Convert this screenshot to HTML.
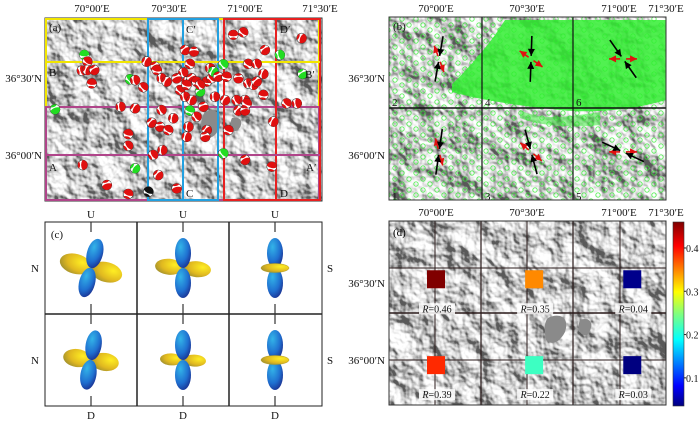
<!DOCTYPE html>
<html><head><meta charset="utf-8">
<style>
html,body{margin:0;padding:0;background:#fff;}
svg{display:block;font-family:"Liberation Serif",serif;}
</style></head>
<body>
<svg id="fig" width="700" height="423" viewBox="0 0 700 423" xmlns="http://www.w3.org/2000/svg">
<defs>
  <filter id="hill" x="0" y="0" width="100%" height="100%">
    <feTurbulence type="fractalNoise" baseFrequency="0.035" numOctaves="4" seed="7" result="n"/>
    <feDiffuseLighting in="n" surfaceScale="10" lighting-color="#ffffff" diffuseConstant="1.1" result="l">
      <feDistantLight azimuth="315" elevation="35"/>
    </feDiffuseLighting>
    <feColorMatrix in="l" type="matrix" values="0.9 0 0 0 0.1  0.9 0 0 0 0.1  0.9 0 0 0 0.1  0 0 0 1 0"/>
  </filter>
  <pattern id="gsparse" width="14" height="11" patternUnits="userSpaceOnUse">
    <circle cx="3" cy="3" r="2.2" fill="none" stroke="#33ee33" stroke-width="0.9"/>
    <circle cx="10" cy="8" r="2.2" fill="none" stroke="#33ee33" stroke-width="0.9"/>
  </pattern>
  <linearGradient id="jet" x1="0" y1="1" x2="0" y2="0">
    <stop offset="0" stop-color="#00007f"/><stop offset="0.11" stop-color="#0000ff"/>
    <stop offset="0.36" stop-color="#00ffff"/><stop offset="0.5" stop-color="#7fff7f"/>
    <stop offset="0.62" stop-color="#ffff00"/><stop offset="0.87" stop-color="#ff0000"/>
    <stop offset="1" stop-color="#7f0000"/>
  </linearGradient>
  <radialGradient id="blue" cx="0.35" cy="0.3" r="0.8">
    <stop offset="0" stop-color="#33b4e8"/><stop offset="0.6" stop-color="#1f6fd0"/><stop offset="1" stop-color="#1a2a8a"/>
  </radialGradient>
  <radialGradient id="yel" cx="0.7" cy="0.35" r="0.8">
    <stop offset="0" stop-color="#ffee22"/><stop offset="0.6" stop-color="#e0b820"/><stop offset="1" stop-color="#9a8c30"/>
  </radialGradient>
</defs>

<!-- Panel a -->
<g>
  <rect x="45" y="18" width="277" height="183" filter="url(#hill)"/>
  <path d="M205,112 C215,108 222,112 220,125 C218,135 210,140 204,138 C200,130 200,118 205,112 Z M232,118 C240,116 245,122 238,130 C232,134 228,126 232,118 Z" fill="#8a8a8a"/>
  <rect x="45" y="18" width="277" height="183" fill="none" stroke="#333" stroke-width="1"/>
  <rect x="46" y="19" width="273" height="88" fill="none" stroke="#f2e600" stroke-width="2"/>
  <rect x="46" y="107" width="273" height="93" fill="none" stroke="#b0458a" stroke-width="2"/>
  <rect x="148" y="19" width="70" height="181" fill="none" stroke="#22a0e0" stroke-width="2"/>
  <line x1="183" y1="19" x2="183" y2="200" stroke="#22a0e0" stroke-width="2"/>
  <rect x="224" y="19" width="96" height="181" fill="none" stroke="#e82020" stroke-width="2"/>
  <line x1="276" y1="19" x2="276" y2="200" stroke="#e82020" stroke-width="2"/>
  <line x1="46" y1="62" x2="320" y2="62" stroke="#f2e600" stroke-width="2"/>
  <line x1="46" y1="155" x2="320" y2="155" stroke="#b0458a" stroke-width="2"/>
  <g id="beachballs"></g>
  <g font-size="11" fill="#111">
    <text x="49" y="31">(a)</text>
    <text x="49" y="76">B</text><text x="305" y="78">B′</text>
    <text x="49" y="171">A</text><text x="306" y="171">A′</text>
    <text x="186" y="33">C′</text><text x="186" y="197">C</text>
    <text x="280" y="33">D′</text><text x="280" y="197">D</text>
  </g>
</g>

<!-- Panel b -->
<g>
  <rect x="389" y="17" width="277" height="183" filter="url(#hill)"/>
  <rect x="389" y="17" width="277" height="183" fill="url(#gsparse)" opacity="0.8"/>
  <path d="M452,84 C465,72 480,55 495,35 L505,20 L666,20 L666,100 C640,108 600,114 560,110 C520,106 480,100 452,92 Z" fill="#33ee33" opacity="0.85"/>
  <path d="M520,110 C540,120 560,118 600,112 L600,125 C570,128 540,126 520,118 Z" fill="#33ee33" opacity="0.5"/>
  <line x1="482" y1="17" x2="482" y2="200" stroke="#111" stroke-width="1.2"/>
  <line x1="573" y1="17" x2="573" y2="200" stroke="#111" stroke-width="1.2"/>
  <line x1="389" y1="108" x2="666" y2="108" stroke="#111" stroke-width="1.5"/>
  <rect x="389" y="17" width="277" height="183" fill="none" stroke="#333"/>
  <g id="stressArrows"></g>
  <g font-size="11" fill="#111">
    <text x="393" y="30">(b)</text>
    <text x="392" y="106">2</text><text x="485" y="106">4</text><text x="576" y="106">6</text>
    <text x="392" y="200">1</text><text x="485" y="200">3</text><text x="576" y="200">5</text>
  </g>
</g>

<!-- Panel c -->
<g>
  <rect x="45" y="222" width="277" height="184" fill="#fff" stroke="#222"/>
  <line x1="137" y1="222" x2="137" y2="406" stroke="#222" stroke-width="1.5"/>
  <line x1="229" y1="222" x2="229" y2="406" stroke="#222" stroke-width="1.5"/>
  <line x1="45" y1="314" x2="322" y2="314" stroke="#222" stroke-width="1.5"/>
  <g id="lobes"></g>
  <g font-size="11" fill="#111" text-anchor="middle">
    <text x="57" y="238">(c)</text>
    <text x="91" y="218">U</text><text x="183" y="218">U</text><text x="275" y="218">U</text>
    <text x="91" y="419">D</text><text x="183" y="419">D</text><text x="275" y="419">D</text>
    <text x="35" y="272">N</text><text x="35" y="364">N</text>
    <text x="330" y="272">S</text><text x="330" y="364">S</text>
  </g>
</g>

<!-- Panel d -->
<g>
  <rect x="389" y="221" width="277" height="184" filter="url(#hill)"/>
  <path d="M548,318 C560,312 570,318 565,332 C560,342 552,346 546,340 C544,330 544,322 548,318 Z M580,320 C590,316 595,324 588,334 C582,338 576,330 580,320 Z" fill="#8a8a8a"/>
  <line x1="481" y1="221" x2="481" y2="405" stroke="#2a1a1a" stroke-width="1.2"/>
  <line x1="573" y1="221" x2="573" y2="405" stroke="#2a1a1a" stroke-width="1.2"/>
  <line x1="389" y1="313" x2="666" y2="313" stroke="#2a1a1a" stroke-width="1.5"/>
  <line x1="389" y1="268" x2="666" y2="268" stroke="#2a1a1a" stroke-width="1"/>
  <line x1="389" y1="360" x2="666" y2="360" stroke="#2a1a1a" stroke-width="1"/>
  <line x1="435" y1="221" x2="435" y2="405" stroke="#2a1a1a" stroke-width="1"/>
  <line x1="527" y1="221" x2="527" y2="405" stroke="#2a1a1a" stroke-width="1"/>
  <line x1="620" y1="221" x2="620" y2="405" stroke="#2a1a1a" stroke-width="1"/>
  <rect x="389" y="221" width="277" height="184" fill="none" stroke="#333"/>
  <g id="rSquares"></g>
  <text x="393" y="236" font-size="11">(d)</text>
  <rect x="673" y="222" width="11" height="184" fill="url(#jet)" stroke="#333" stroke-width="0.6"/>
  <g id="cbTicks" font-size="10" fill="#111"></g>
</g>

<g id="axisLabels" font-size="11" fill="#111"></g>
</svg>

<script>
const NS = 'http://www.w3.org/2000/svg';
// Panel d data
const cellNames = ['cell-2', 'cell-4', 'cell-6', 'cell-1', 'cell-3', 'cell-5'];
const cellLonMin = [0, 32, 64, 0, 32, 64];
const cellLatMin = [26, 26, 26, -2, -2, -2];
const rValues = [0.46, 0.35, 0.04, 0.39, 0.22, 0.03];
const rLabels = ['R=0.46', 'R=0.35', 'R=0.04', 'R=0.39', 'R=0.22', 'R=0.03'];
const cbTickValues = [0.1, 0.2, 0.3, 0.4];
const cbMin = 0.035, cbMax = 0.46;
// Panel a: focal mechanisms [lon minutes from 70°00'E, lat minutes from 36°00'N, type]
const eventLon = [-3,-1.8,-4,-1.8,0.9,-0.1,14.9,16.9,21.4,24.7,25.4,20.1,11.2,16.9,-14.5,14.2,14.2,-3.7,16.9,5.8,14.2,24,27.6,26,33.2,22.1,27.3,31.9,23.4,26.7,29.9,37.8,37.1,36.5,40,38.4,35.8,37.1,39.1,41,34.5,36.5,39.1,42.4,45,46.9,46.3,47.6,49.5,52.8,51.5,48.2,52.2,43.7,38.4,41,37.8,45,44.4,53.5,56.7,60,57.4,60,60.7,61.3,63.3,64.6,57.4,61.3,64.6,67.2,67.8,55.4,59.3,73.7,82.2,82.6,67.2,76.3,80.3,71.1,60,70.5,51.5,27.3,29.3,33.2,37.1,42.4];
const eventLat = [39,36.4,32.9,33.1,33.1,27.9,29.5,29.2,36.4,34.4,33.1,26.4,18.8,18.2,17.8,8.2,3.6,-3.9,-5.2,-11.7,-15.2,0,1.9,-7.8,-13,-14.3,17.5,14.3,12.6,11,9.7,11,7.1,40.9,40.3,35.5,32.1,28.6,29.9,28.6,25.3,22.7,21.4,24.7,28.6,29.9,33.8,32.5,30.5,30.5,35.3,22.7,21.4,18.8,17.3,14.9,11,9.7,7.1,9.7,21.4,21.4,17.3,17.3,20.1,27.9,27.3,28.6,29.9,35.5,35.5,31.6,40.9,46.8,47.8,39,45.5,31.6,23.4,20.1,20.1,13,-1.9,-4.5,0.6,29.9,28.6,29.9,27.3,27.3];
const eventType = ['g','r','r','r','r','r','g','r','r','r','r','r','r','r','g','r','r','r','g','r','r','r','r','r','r','k','r','r','r','r','r','r','r','r','r','r','r','r','r','r','r','r','r','g','r','r','r','g','r','r','g','r','r','r','g','r','r','r','r','r','r','r','r','r','r','r','r','r','r','r','r','r','r','r','r','g','r','g','r','r','r','r','r','r','g','r','r','r','r','r'];
// Panel b: stress axes azimuths per cell
const sigmaAzimuth = [10, 2, 145, 8, 165, 115];
const extAzimuth = [160, 125, 90, 165, 130, 90];

const xa = m => 92 + m * (153 / 60);
const ya = m => 155 - m * (154 / 60);
const xb = m => 436 + m * (92 / 30);
const yb = m => 155 - m * (93 / 30);
const yd = m => 359 - m * (92 / 30);
const cbY = v => 406 - (v - cbMin) / (cbMax - cbMin) * 184;

function el(tag, attrs, parent) {
  const e = document.createElementNS(NS, tag);
  for (const k in attrs) e.setAttribute(k, attrs[k]);
  parent.appendChild(e); return e;
}
function jet(v) {
  const t = Math.max(0, Math.min(1, (v - cbMin) / (cbMax - cbMin)));
  const f = x => Math.round(255 * Math.max(0, Math.min(1, 1.5 - Math.abs(4 * t - x))));
  return `rgb(${f(3)},${f(2)},${f(1)})`;
}

const bb = document.getElementById('beachballs');
eventLon.forEach((lo, i) => {
  const cx = xa(lo), cy = ya(eventLat[i]);
  const col = eventType[i] === 'g' ? '#22dd22' : (eventType[i] === 'k' ? '#111' : '#e01010');
  const g = el('g', {transform: `translate(${cx.toFixed(1)},${cy.toFixed(1)}) rotate(${(i * 37) % 180})`}, bb);
  
  
  el('circle', {r: 5, fill: '#fff', stroke: '#222', 'stroke-width': 0.5}, g);
  el('path', {d: 'M-5,0 A5,5 0 0 1 5,0 Q0,3 -5,0 Z', fill: col}, g);
  el('path', {d: 'M-3.5,3.5 A5,5 0 0 0 3.5,3.5 Q0,1.5 -3.5,3.5 Z', fill: col}, g);
});

const sa = document.getElementById('stressArrows');
const bCenters = [[0, 30], [30, 30], [60, 30], [0, 0], [30, 0], [60, 0]];
function arrowPair(cx, cy, az, len, col, inward, parent) {
  const r = az * Math.PI / 180, dx = Math.sin(r), dy = -Math.cos(r);
  [1, -1].forEach(s => {
    const x1 = cx + s * dx * len, y1 = cy + s * dy * len;
    const x0 = cx + s * dx * 3, y0 = cy + s * dy * 3;
    el('line', {x1: x0, y1: y0, x2: x1, y2: y1, stroke: col, 'stroke-width': 1.6}, parent);
    const tip = inward ? [x0, y0] : [x1, y1];
    const dir = inward ? -s : s;
    const bx = tip[0] - dir * dx * 7, by = tip[1] - dir * dy * 7;
    el('polygon', {points: `${tip[0]},${tip[1]} ${bx - dy * 3.5},${by + dx * 3.5} ${bx + dy * 3.5},${by - dx * 3.5}`, fill: col}, parent);
  });
}
bCenters.forEach((c, i) => {
  const g = el('g', {}, sa);
  
  
  const cx = xb(c[0] + 1), cy = yb(c[1] + 1);
  arrowPair(cx, cy, extAzimuth[i], 14, '#e01010', false, g);
  arrowPair(cx, cy, sigmaAzimuth[i], 23, '#000', true, g);
});

const lb = document.getElementById('lobes');
const lobeCenters = [[91, 268], [183, 268], [275, 268], [91, 360], [183, 360], [275, 360]];
const yLen = [30, 26, 13, 26, 21, 13], yWid = [10, 8, 4, 9, 6, 4], tilt = [15, 5, 0, 8, 3, 0], bTilt = [15, 0, 0, 10, 0, 0];
lobeCenters.forEach((c, i) => {
  const g = el('g', {transform: `translate(${c[0]},${c[1]})`}, lb);
  
  
  el('line', {x1: 0, y1: -46, x2: 0, y2: -36, stroke: '#333', 'stroke-width': 1.2}, g);
  el('line', {x1: 0, y1: 36, x2: 0, y2: 46, stroke: '#333', 'stroke-width': 1.2}, g);
  const yg = el('g', {transform: `rotate(${tilt[i]})`}, g);
  if (yWid[i] > 5) {
    el('ellipse', {cx: -yLen[i] / 2 - 1, cy: 0, rx: yLen[i] / 2 + 1, ry: yWid[i], fill: 'url(#yel)'}, yg);
    el('ellipse', {cx: yLen[i] / 2 + 1, cy: 0, rx: yLen[i] / 2 + 1, ry: yWid[i], fill: 'url(#yel)'}, yg);
  }
  const bg = el('g', {transform: `rotate(${bTilt[i]})`}, g);
  el('ellipse', {cx: 0, cy: -15, rx: 8, ry: 15, fill: 'url(#blue)'}, bg);
  el('ellipse', {cx: 0, cy: 15, rx: 8, ry: 15, fill: 'url(#blue)'}, bg);
  if (yWid[i] <= 5) {
    el('ellipse', {cx: 0, cy: 0, rx: yLen[i] + 1, ry: 4.5, fill: 'url(#yel)', stroke: '#b09a20', 'stroke-width': 0.5}, g);
  }
});

const rs = document.getElementById('rSquares');
rValues.forEach((v, i) => {
  const cx = xb(cellLonMin[i]), cy = yd(cellLatMin[i]);
  const sq = el('rect', {x: cx - 9, y: cy - 9, width: 18, height: 18, fill: jet(v)}, rs);
  
  
  el('rect', {x: cx - 17, y: cy + 24, width: 36, height: 11, fill: '#fff', opacity: 0.85}, rs);
  const t = el('text', {x: cx + 1, y: cy + 33, 'font-size': 10, 'text-anchor': 'middle', fill: '#111'}, rs);
  
  
  t.innerHTML = '<tspan font-style="italic">R</tspan>' + rLabels[i].slice(1);
});

const cbt = document.getElementById('cbTicks');
cbTickValues.forEach(v => {
  const y = cbY(v);
  el('line', {x1: 684, y1: y, x2: 686, y2: y, stroke: '#222'}, cbt);
  const t = el('text', {x: 686, y: y + 4}, cbt);
  
  
  t.textContent = v.toFixed(1);
});

const ax = document.getElementById('axisLabels');
const lonLabels = ['70°00′E', '70°30′E', '71°00′E', '71°30′E'];
const lonA = [92, 169, 245, 320], lonB = [436, 527, 619, 666];
lonLabels.forEach((s, i) => {
  [[lonA[i], 12], [lonB[i], 12], [lonB[i], 216]].forEach(p => {
    const t = el('text', {x: p[0], y: p[1], 'text-anchor': 'middle'}, ax);
    
    
    t.textContent = s;
  });
});
const latLabels = ['36°30′N', '36°00′N'];
[[78, 155], [78, 155], [283, 360]].forEach((ys, k) => {
  const xr = [42, 385, 385][k];
  ys.forEach((y, i) => {
    const t = el('text', {x: xr, y: y + 4, 'text-anchor': 'end'}, ax);
    
    
    t.textContent = latLabels[i];
  });
});
</script>
</body></html>
